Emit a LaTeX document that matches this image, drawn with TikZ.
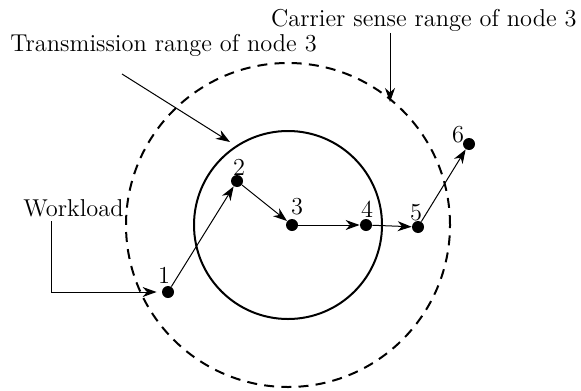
\documentclass[tikz,border=0pt]{standalone}
\usetikzlibrary{arrows.meta}
\begin{document}
\begin{tikzpicture}[x=0.5pt,y=-0.5pt,
  every node/.style={font=\fontsize{12.2}{14}\selectfont},
  dot/.style={circle,fill=black,inner sep=0pt,minimum size=6pt},
  num/.style={anchor=base,inner sep=0pt},
  txt/.style={inner sep=0pt},
  arr/.style={-{Stealth[length=7pt,width=5pt,inset=2.2pt]},line width=0.5pt},
  solidring/.style={line width=1pt},
  dashring/.style={line width=1pt,dash pattern=on 5pt off 3.6pt}]
\useasboundingbox (0,0) rectangle (581,390);
% ranges
\draw[solidring] (288,225) circle[radius=94*0.5pt];
\draw[dashring] (288,225) circle[radius=162*0.5pt];
% nodes
\node[dot] (n1) at (168,292) {};
\node[dot] (n2) at (237,181) {};
\node[dot] (n3) at (292,225) {};
\node[dot] (n4) at (366,225) {};
\node[dot] (n5) at (418,227) {};
\node[dot] (n6) at (469,144) {};
\node[num] (l1) at (164,283) {1};
\node[num] (l2) at (239,175) {2};
\node[num] (l3) at (297,214) {3};
\node[num] (l4) at (367,217) {4};
\node[num] (l5) at (416,220) {5};
\node[num] (l6) at (458,142) {6};
% path arrows
\draw[arr] (n1) -- (n2);
\draw[arr] (n2) -- (n3);
\draw[arr] (n3) -- (n4);
\draw[arr] (n4) -- (n5);
\draw[arr] (n5) -- (n6);
% labels
\node[txt,anchor=base east] (cs) at (577,26.5) {Carrier sense range of node 3};
\node[txt,anchor=base west] (tr) at (10,52) {Transmission range of node 3};
\node[txt,anchor=base west] (wl) at (23,216.5) {Workload};
\coordinate (cst) at (390,33);
\coordinate (csh) at (390,102);
\coordinate (trt) at (122,74);
\coordinate (trh) at (230,142);
\coordinate (wlt) at (51,221);
\draw[arr] (cst) -- (csh);
\draw[arr] (trt) -- (trh);
\draw[arr,shorten >=2.5pt] (wlt) |- (n1);
\end{tikzpicture}
\end{document}
